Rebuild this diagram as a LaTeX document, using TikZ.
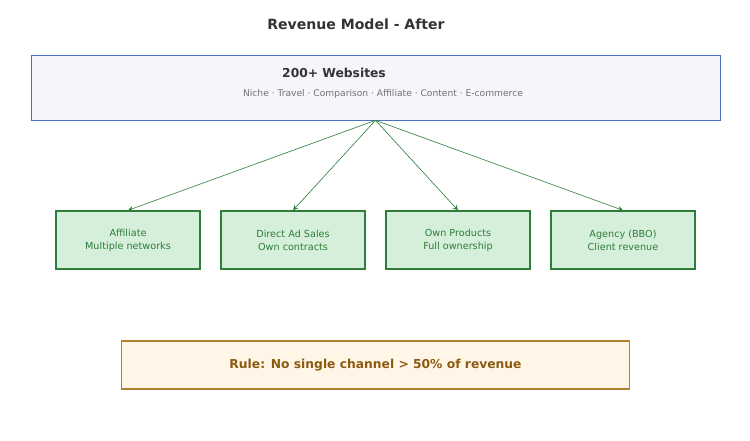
\documentclass[tikz,border=0pt]{standalone}
\usepackage{fontspec}
\setmainfont{DejaVu Sans}
\definecolor{topfill}{HTML}{F5F5FA}
\definecolor{topline}{HTML}{4A72C4}
\definecolor{chfill}{HTML}{D5EFDA}
\definecolor{chline}{HTML}{2E7D3A}
\definecolor{chtext}{HTML}{2E7D3A}
\definecolor{rulefill}{HTML}{FFF6E8}
\definecolor{ruleline}{HTML}{B07F30}
\definecolor{ruletext}{HTML}{8B5A10}
\begin{document}
\begin{tikzpicture}[x=0.02cm, y=-0.02cm,
  ch/.style={draw=chline, fill=chfill, line width=0.8pt, minimum width=2.88cm, minimum height=1.16cm, align=center, text=chtext, font=\fontsize{5.5}{7.5}\selectfont},
  link/.style={->, draw=chline, line width=0.35pt, >=stealth}]
  \useasboundingbox (0,0) rectangle (750,440);
  \node[font=\fontsize{8}{10}\selectfont\bfseries, text=black!80] (title) at (356,24) {Revenue Model - After};
  \node[draw=topline, fill=topfill, line width=0.4pt, minimum width=13.78cm, minimum height=1.3cm] (top) at (375.5,87.5) {};
  \node[font=\fontsize{7}{9}\selectfont\bfseries, text=black!80] (name) at (334,73) {200+ Websites};
  \node[font=\fontsize{5.2}{7}\selectfont, text=black!55] (tags) at (383,94) {Niche · Travel · Comparison · Affiliate · Content · E-commerce};
  \node[ch] (aff) at (128,240) {Affiliate\\Multiple networks};
  \node[ch] (ads) at (293,240) {Direct Ad Sales\\Own contracts};
  \node[ch] (own) at (458,240) {Own Products\\Full ownership};
  \node[ch] (bbo) at (623,240) {Agency (BBO)\\Client revenue};
  \foreach \n in {aff,ads,own,bbo}
    \draw[link] (top.south) -- (\n.north);
  \node[draw=ruleline, fill=rulefill, line width=0.6pt, minimum width=10.18cm, minimum height=0.96cm, text=ruletext, font=\fontsize{7}{9}\selectfont\bfseries] (rule) at (375.5,365) {Rule: No single channel > 50\% of revenue};
\end{tikzpicture}
\end{document}
